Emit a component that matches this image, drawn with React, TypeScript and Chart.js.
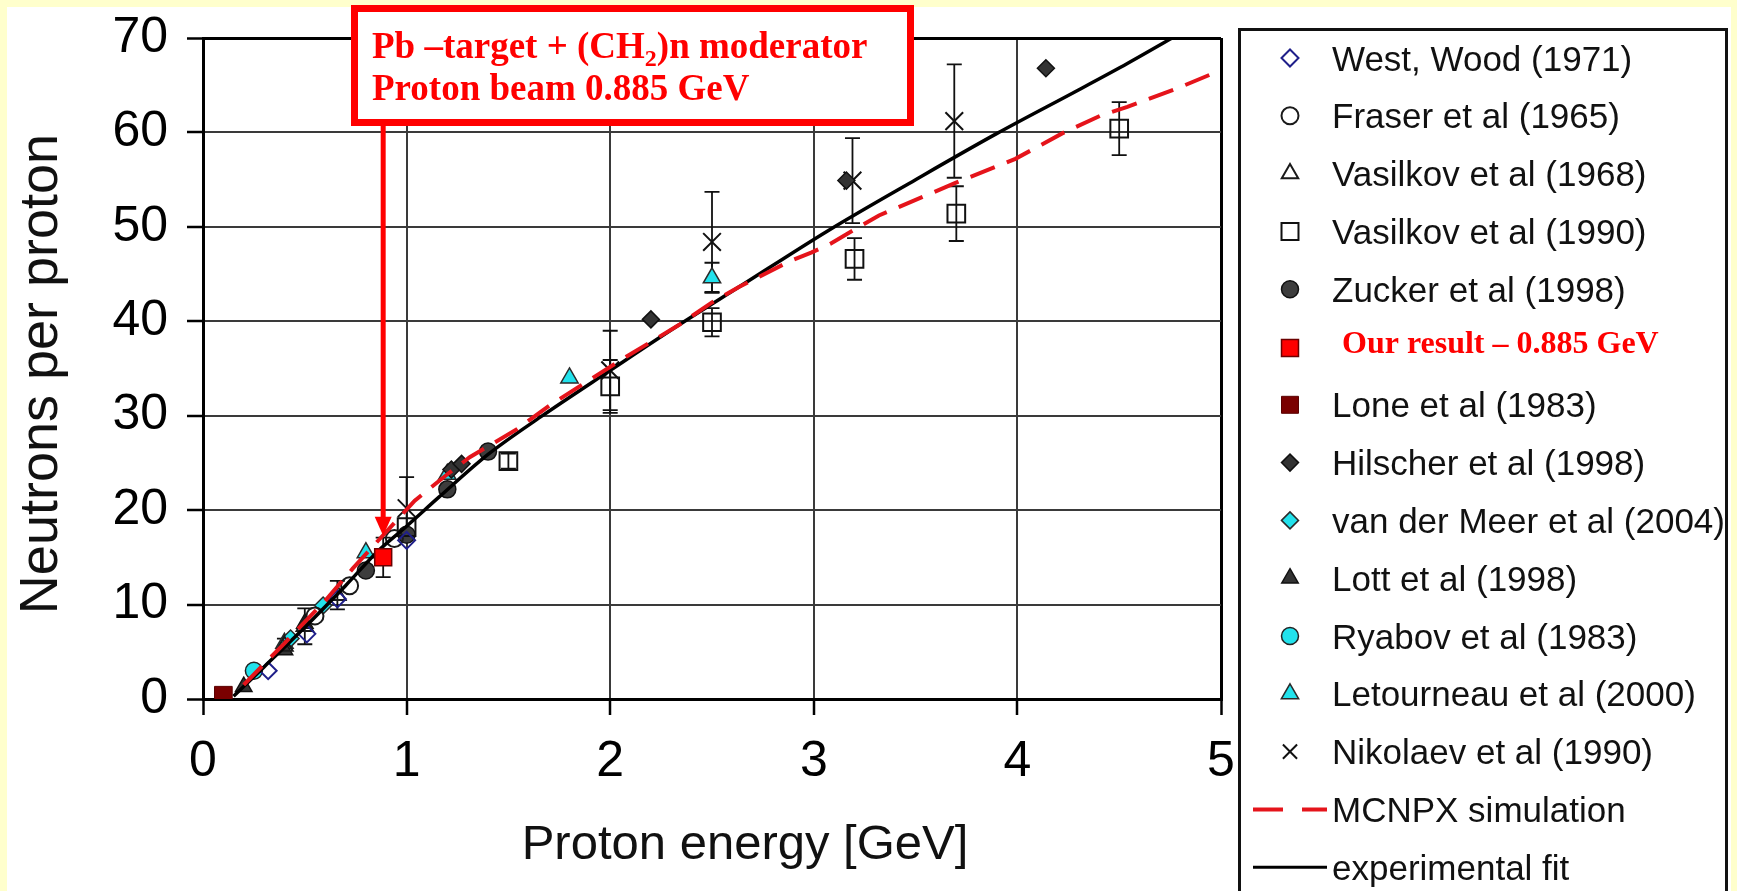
import React, { useEffect, useRef } from 'react';
import { Chart, registerables } from 'chart.js';
import { drawPoint } from 'chart.js/helpers';

Chart.register(...registerables);

// ---- Measured neutron yields: proton energy [GeV] vs neutrons per proton ----
const westWoodE = [0.32, 0.51, 0.66, 1.0];
const westWoodN = [3.0, 6.9, 10.6, 16.8];

const fraserE = [0.55, 0.72, 0.94];
const fraserN = [8.8, 12.0, 17.0];

const vasilkov68E = [0.4, 0.5, 0.66];
const vasilkov68N = [5.6, 7.7, 11.0];
const vasilkov68Err = [0.8, 1.9, 1.5];

const vasilkov90E = [1.0, 1.5, 2.0, 2.5, 3.2, 3.7, 4.5];
const vasilkov90N = [18.2, 25.2, 33.1, 39.9, 46.6, 51.4, 60.4];
const vasilkov90Err = [0, 0.8, 2.8, 1.5, 2.2, 2.9, 2.8];

const zuckerE = [0.8, 1.0, 1.2, 1.4];
const zuckerN = [13.6, 17.4, 22.2, 26.2];

const ourE = [0.885];
const ourN = [15.0];
const ourErr = [2.1];

const loneE = [0.1];
const loneN = [0.4];

const hilscherE = [1.22, 1.27, 2.2, 3.16, 4.14];
const hilscherN = [24.3, 24.9, 40.2, 54.9, 66.8];

const meerE = [0.43, 0.59];
const meerN = [6.4, 9.9];

const lottE = [0.2, 0.4, 0.5];
const lottN = [1.3, 5.2, 8.0];

const ryabovE = [0.25];
const ryabovN = [3.0];

const letourneauE = [0.4, 0.8, 1.2, 1.8, 2.5];
const letourneauN = [5.9, 15.5, 23.8, 34.0, 44.6];
const letourneauErr = [0, 0, 0, 0, 1.6];

const nikolaevE = [1.0, 2.0, 2.5, 3.19, 3.69];
const nikolaevN = [20.2, 34.8, 48.4, 54.9, 61.2];
const nikolaevErr = [3.3, 4.2, 5.3, 4.5, 6.0];

// ---- Curves ----
const mcnpxE = [0.2, 0.4, 0.6, 0.735, 0.87, 1.04, 1.2, 1.31, 1.544, 1.71, 2.06, 2.337, 2.5, 2.63, 2.876, 2.99, 3.08, 3.19, 3.32, 3.69, 3.99, 4.22, 4.41, 4.54, 4.8, 5.0];
const mcnpxN = [1.5, 5.9, 10.4, 13.8, 17.0, 21.0, 23.8, 25.6, 28.6, 31.2, 36.0, 39.6, 42.0, 43.6, 46.3, 47.3, 48.2, 49.6, 51.2, 54.6, 57.2, 59.9, 61.8, 62.7, 64.8, 66.6];

const fitE = [0.15, 0.3, 0.5, 0.7, 0.866, 1.0, 1.16, 1.4, 1.66, 2.0, 2.337, 2.63, 3.07, 3.5, 3.9, 4.3, 4.54, 4.76];
const fitN = [0.3, 3.4, 7.6, 12.0, 15.8, 18.3, 21.4, 25.9, 29.9, 34.8, 39.6, 43.6, 49.6, 55.0, 59.9, 64.5, 67.3, 70.0];

// ---- Axes ----
const xTickStep = 1;
const xMin = 0;
const xMax = 5;
const yTickStep = 10;
const yMin = 0;
const yMax = 70;

// ---- Annotation ----
const beamEnergy = 0.885;
const arrowTipN = 17.3;
const boxLine1a = 'Pb –target + (CH';
const boxLine1sub = '2';
const boxLine1b = ')n moderator';
const boxLine2 = 'Proton beam 0.885 GeV';

const SANS = "'Liberation Sans', Arial, Helvetica, sans-serif";
const SERIF = "'Liberation Serif', 'Times New Roman', Times, serif";
const CYAN = '#22E2EC';
const CLEAR = 'rgba(255,255,255,0)';

const pts = (xs: number[], ys: number[]) => xs.map((v, i) => ({ x: v, y: ys[i] }));

const marker = (
  label: string,
  xs: number[],
  ys: number[],
  style: string,
  radius: number,
  fill: string,
  stroke: string,
  bw: number,
  extra: Record<string, unknown> = {}
) => ({
  label,
  data: pts(xs, ys),
  pointStyle: style,
  pointRadius: radius,
  pointHoverRadius: radius,
  pointBackgroundColor: fill,
  pointBorderColor: stroke,
  pointBorderWidth: bw,
  showLine: false,
  order: 1,
  ...extra,
});

const buildDatasets = () => [
  marker('West, Wood (1971)', westWoodE, westWoodN, 'rectRot', 8.5, CLEAR, '#1F1F8A', 2),
  marker('Fraser et al (1965)', fraserE, fraserN, 'circle', 8.5, CLEAR, '#1a1a1a', 2),
  marker('Vasilkov et al (1968)', vasilkov68E, vasilkov68N, 'triangle', 9.5, CLEAR, '#1a1a1a', 2, { errors: vasilkov68Err }),
  marker('Vasilkov et al (1990)', vasilkov90E, vasilkov90N, 'rect', 12.5, CLEAR, '#111111', 2, { errors: vasilkov90Err }),
  marker('Zucker et al (1998)', zuckerE, zuckerN, 'circle', 8.5, '#3d3d3d', '#111111', 1.5),
  marker('Our result – 0.885 GeV', ourE, ourN, 'rect', 12, '#FF0000', '#6b0000', 1.5, { errors: ourErr, order: 0, legendSerif: true }),
  marker('Lone et al (1983)', loneE, loneN, 'rect', 12.5, '#7A0000', '#5a0000', 1),
  marker('Hilscher et al (1998)', hilscherE, hilscherN, 'rectRot', 8.5, '#333333', '#111111', 1.5),
  marker('van der Meer et al (2004)', meerE, meerN, 'rectRot', 8.5, CYAN, '#2a2a2a', 1.5),
  marker('Lott et al (1998)', lottE, lottN, 'triangle', 9.5, '#333333', '#111111', 1.5),
  marker('Ryabov et al (1983)', ryabovE, ryabovN, 'circle', 8.5, CYAN, '#222222', 1.5),
  marker('Letourneau et al (2000)', letourneauE, letourneauN, 'triangle', 10, CYAN, '#2a2a2a', 1.5, { errors: letourneauErr }),
  marker('Nikolaev et al (1990)', nikolaevE, nikolaevN, 'crossRot', 12.5, CLEAR, '#111111', 2, { errors: nikolaevErr }),
  {
    label: 'MCNPX simulation',
    data: pts(mcnpxE, mcnpxN),
    showLine: true,
    borderColor: '#E5141B',
    borderWidth: 4,
    borderDash: [26, 13],
    pointRadius: 0,
    fill: false,
    tension: 0,
    order: 0,
    isLine: true,
  },
  {
    label: 'experimental fit',
    data: pts(fitE, fitN),
    showLine: true,
    borderColor: '#000000',
    borderWidth: 3.5,
    pointRadius: 0,
    fill: false,
    cubicInterpolationMode: 'monotone',
    order: 0,
    isLine: true,
  },
];

// White sheet on a pale yellow page
const pageBackground = {
  id: 'pageBackground',
  beforeDraw(chart: any) {
    const { ctx, width, height } = chart;
    ctx.save();
    ctx.fillStyle = '#FFFFCC';
    ctx.fillRect(0, 0, width, height);
    ctx.fillStyle = '#FFFFFF';
    ctx.fillRect(7, 7, width - 13, height - 7);
    ctx.restore();
  },
};

// Vertical error bars with caps, read from each dataset's `errors`
const errorBars = {
  id: 'errorBars',
  beforeDatasetsDraw(chart: any) {
    const { ctx } = chart;
    const xs = chart.scales.x;
    const ys = chart.scales.y;
    ctx.save();
    ctx.strokeStyle = '#111111';
    ctx.lineWidth = 1.8;
    chart.data.datasets.forEach((ds: any) => {
      if (!ds.errors) return;
      ds.data.forEach((p: any, i: number) => {
        const e = ds.errors[i];
        if (!e) return;
        const px = xs.getPixelForValue(p.x);
        const top = ys.getPixelForValue(p.y + e);
        const bot = ys.getPixelForValue(p.y - e);
        ctx.beginPath();
        ctx.moveTo(px, top);
        ctx.lineTo(px, bot);
        ctx.moveTo(px - 7.5, top);
        ctx.lineTo(px + 7.5, top);
        ctx.moveTo(px - 7.5, bot);
        ctx.lineTo(px + 7.5, bot);
        ctx.stroke();
      });
    });
    ctx.restore();
  },
};

// Axis titles
const axisTitles = {
  id: 'axisTitles',
  afterDraw(chart: any) {
    const { ctx } = chart;
    ctx.save();
    ctx.fillStyle = '#111111';
    ctx.textAlign = 'center';
    ctx.textBaseline = 'alphabetic';
    ctx.font = `49px ${SANS}`;
    ctx.fillText('Proton energy [GeV]', 745, 859);
    ctx.translate(57, 374);
    ctx.rotate(-Math.PI / 2);
    ctx.font = `54px ${SANS}`;
    ctx.fillText('Neutrons per proton', 0, 0);
    ctx.restore();
  },
};

// Boxed caption with an arrow pointing at the measured beam energy
const beamCallout = {
  id: 'beamCallout',
  afterDraw(chart: any) {
    const { ctx } = chart;
    const xs = chart.scales.x;
    const ys = chart.scales.y;
    ctx.save();
    ctx.fillStyle = '#FFFFFF';
    ctx.fillRect(351, 5, 563, 121);
    ctx.strokeStyle = '#FF0000';
    ctx.lineWidth = 7;
    ctx.strokeRect(354.5, 8.5, 556, 114);
    ctx.fillStyle = '#FF0000';
    ctx.textAlign = 'left';
    ctx.textBaseline = 'alphabetic';
    let tx = 372;
    ctx.font = `bold 37px ${SERIF}`;
    ctx.fillText(boxLine1a, tx, 58);
    tx += ctx.measureText(boxLine1a).width;
    ctx.font = `bold 24px ${SERIF}`;
    ctx.fillText(boxLine1sub, tx, 66);
    tx += ctx.measureText(boxLine1sub).width;
    ctx.font = `bold 37px ${SERIF}`;
    ctx.fillText(boxLine1b, tx, 58);
    ctx.fillText(boxLine2, 372, 100);
    const ax = xs.getPixelForValue(beamEnergy);
    const tip = ys.getPixelForValue(arrowTipN);
    const headH = 19;
    ctx.strokeStyle = '#FF0000';
    ctx.lineWidth = 5;
    ctx.beginPath();
    ctx.moveTo(ax, 126);
    ctx.lineTo(ax, tip - headH + 2);
    ctx.stroke();
    ctx.beginPath();
    ctx.moveTo(ax, tip);
    ctx.lineTo(ax - 8.5, tip - headH);
    ctx.lineTo(ax + 8.5, tip - headH);
    ctx.closePath();
    ctx.fill();
    ctx.restore();
  },
};

// Framed legend to the right of the plot
const sideLegend = {
  id: 'sideLegend',
  afterDraw(chart: any) {
    const { ctx } = chart;
    const left = 1239.5;
    const top = 29.5;
    const rowStep = 57.8;
    const firstRow = 58;
    ctx.save();
    ctx.strokeStyle = '#111111';
    ctx.lineWidth = 3;
    ctx.strokeRect(left, top, 487, 900);
    chart.data.datasets.forEach((ds: any, i: number) => {
      const cy = firstRow + rowStep * i;
      if (ds.isLine) {
        ctx.save();
        ctx.strokeStyle = ds.borderColor;
        ctx.lineWidth = ds.borderDash ? 4 : 3;
        ctx.setLineDash(ds.borderDash ? [30, 19] : []);
        ctx.beginPath();
        ctx.moveTo(1253, cy);
        ctx.lineTo(1327, cy);
        ctx.stroke();
        ctx.restore();
      } else {
        ctx.save();
        ctx.fillStyle = ds.pointBackgroundColor;
        ctx.strokeStyle = ds.pointBorderColor;
        ctx.lineWidth = ds.pointBorderWidth;
        const r = ds.pointStyle === 'rect' ? Math.min(ds.pointRadius, 12) : Math.min(ds.pointRadius, 10);
        drawPoint(ctx, { pointStyle: ds.pointStyle, radius: r, borderWidth: ds.pointBorderWidth, rotation: 0 } as any, 1290, cy + (ds.legendSerif ? 1 : 0));
        ctx.restore();
      }
      ctx.textAlign = 'left';
      ctx.textBaseline = 'alphabetic';
      if (ds.legendSerif) {
        ctx.fillStyle = '#FF0000';
        ctx.font = `bold 32px ${SERIF}`;
        ctx.fillText(ds.label, 1342, cy + 6);
      } else {
        ctx.fillStyle = '#111111';
        ctx.font = `35px ${SANS}`;
        ctx.fillText(ds.label, 1332, cy + 12.5);
      }
    });
    ctx.restore();
  },
};

const isEdge = (v: number, lo: number, hi: number) => v === lo || v === hi;

export default function App() {
  const ref = useRef<HTMLCanvasElement>(null);

  useEffect(() => {
    const canvas = ref.current;
    if (!canvas) return;
    Chart.defaults.font.family = SANS;
    const chart = new Chart(canvas, {
      type: 'scatter',
      data: { datasets: buildDatasets() as any },
      options: {
        responsive: false,
        maintainAspectRatio: false,
        devicePixelRatio: 1,
        animation: false,
        events: [],
        layout: { padding: { left: 0, top: 38, right: 516, bottom: 0 } },
        plugins: { legend: { display: false }, tooltip: { enabled: false } },
        scales: {
          x: {
            type: 'linear',
            min: xMin,
            max: xMax,
            afterFit: (s: any) => {
              s.height = 192;
              s.paddingLeft = 0;
              s.paddingRight = 0;
            },
            ticks: {
              stepSize: xTickStep,
              color: '#000000',
              font: { size: 50, family: SANS },
              padding: 17,
              maxRotation: 0,
              autoSkip: false,
            },
            grid: {
              color: (c: any) => (c.tick && isEdge(c.tick.value, xMin, xMax) ? '#000000' : '#3a3a3a'),
              lineWidth: (c: any) => (c.tick && isEdge(c.tick.value, xMin, xMax) ? 3 : 2),
              tickLength: 16,
              tickColor: '#000000',
              tickWidth: 2.5,
            },
            border: { display: true, color: '#000000', width: 3 },
          },
          y: {
            type: 'linear',
            min: yMin,
            max: yMax,
            afterFit: (s: any) => {
              s.width = 203;
              s.paddingTop = 0;
              s.paddingBottom = 0;
            },
            ticks: {
              stepSize: yTickStep,
              color: '#000000',
              font: { size: 50, family: SANS },
              padding: 19,
            },
            grid: {
              color: (c: any) => (c.tick && isEdge(c.tick.value, yMin, yMax) ? '#000000' : '#3a3a3a'),
              lineWidth: (c: any) => (c.tick && isEdge(c.tick.value, yMin, yMax) ? 3 : 2),
              tickLength: 16,
              tickColor: '#000000',
              tickWidth: 2.5,
            },
            border: { display: true, color: '#000000', width: 3 },
          },
        },
      } as any,
      plugins: [pageBackground, errorBars, axisTitles, beamCallout, sideLegend],
    });
    return () => chart.destroy();
  }, []);

  return (
    <div style={{ position: 'absolute', left: 0, top: 0, width: 1737, height: 891 }}>
      <canvas ref={ref} width={1737} height={891} style={{ display: 'block', width: 1737, height: 891 }} />
    </div>
  );
}
